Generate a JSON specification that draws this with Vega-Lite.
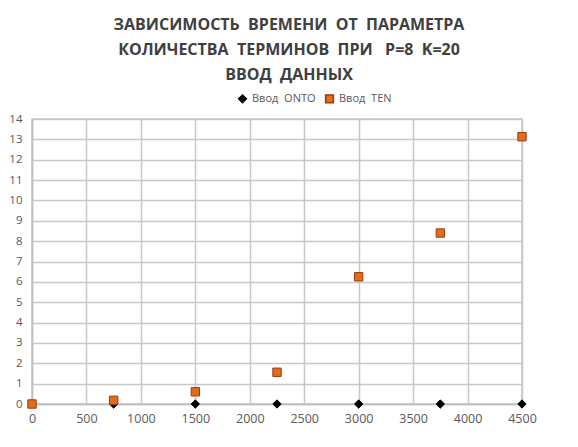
{
  "$schema": "https://vega.github.io/schema/vega-lite/v6.json",
  "width": 490,
  "height": 285,
  "autosize": "none",
  "padding": {"left": 32, "top": 119, "right": 56, "bottom": 43},
  "background": "white",
  "title": {
    "text": ["ЗАВИСИМОСТЬ\u00a0 ВРЕМЕНИ\u00a0 ОТ\u00a0 ПАРАМЕТРА", "КОЛИЧЕСТВА\u00a0 ТЕРМИНОВ\u00a0 ПРИ\u00a0\u00a0 P=8\u00a0 K=20", "ВВОД\u00a0 ДАННЫХ"],
    "font": "Open Sans",
    "fontSize": 16,
    "fontWeight": "bold",
    "color": "#404040",
    "lineHeight": 25,
    "anchor": "middle",
    "frame": "group",
    "offset": 10,
    "dx": 12
  },
  "data": {
    "values": [
      {"n": 0, "series": "Ввод\u00a0 ONTO", "t": 0},
      {"n": 750, "series": "Ввод\u00a0 ONTO", "t": 0},
      {"n": 1500, "series": "Ввод\u00a0 ONTO", "t": 0},
      {"n": 2250, "series": "Ввод\u00a0 ONTO", "t": 0},
      {"n": 3000, "series": "Ввод\u00a0 ONTO", "t": 0},
      {"n": 3750, "series": "Ввод\u00a0 ONTO", "t": 0},
      {"n": 4500, "series": "Ввод\u00a0 ONTO", "t": 0},
      {"n": 0, "series": "Ввод\u00a0 TEN", "t": 0},
      {"n": 750, "series": "Ввод\u00a0 TEN", "t": 0.18},
      {"n": 1500, "series": "Ввод\u00a0 TEN", "t": 0.6},
      {"n": 2250, "series": "Ввод\u00a0 TEN", "t": 1.56},
      {"n": 3000, "series": "Ввод\u00a0 TEN", "t": 6.25},
      {"n": 3750, "series": "Ввод\u00a0 TEN", "t": 8.4},
      {"n": 4500, "series": "Ввод\u00a0 TEN", "t": 13.13}
    ]
  },
  "mark": {"type": "point", "filled": true, "size": 70, "opacity": 1, "strokeWidth": 1},
  "encoding": {
    "x": {
      "field": "n",
      "type": "quantitative",
      "scale": {"domain": [0, 4500], "nice": false},
      "axis": {
        "title": null,
        "values": [0, 500, 1000, 1500, 2000, 2500, 3000, 3500, 4000, 4500],
        "format": "d",
        "labelFlush": false,
        "labelFont": "Open Sans",
        "labelFontSize": 12.5,
        "labelColor": "#595959",
        "labelPadding": 8,
        "ticks": false,
        "domainColor": "#bfbfbf",
        "domainWidth": 1.5,
        "gridColor": "#c8c8c8",
        "gridWidth": 1.5
      }
    },
    "y": {
      "field": "t",
      "type": "quantitative",
      "scale": {"domain": [0, 14], "nice": false},
      "axis": {
        "title": null,
        "values": [0, 1, 2, 3, 4, 5, 6, 7, 8, 9, 10, 11, 12, 13, 14],
        "labelFont": "Open Sans",
        "labelFontSize": 11.5,
        "labelColor": "#595959",
        "labelPadding": 10,
        "ticks": false,
        "domainColor": "#bfbfbf",
        "domainWidth": 1.5,
        "gridColor": "#c8c8c8",
        "gridWidth": 1.5
      }
    },
    "shape": {
      "field": "series",
      "type": "nominal",
      "scale": {"domain": ["Ввод\u00a0 ONTO", "Ввод\u00a0 TEN"], "range": ["diamond", "square"]},
      "legend": {
        "title": null,
        "orient": "none",
        "direction": "horizontal",
        "legendX": 205,
        "legendY": -26,
        "labelFont": "Open Sans",
        "labelFontSize": 11,
        "labelColor": "#595959",
        "columnPadding": 6,
        "symbolSize": 60
      }
    },
    "color": {
      "field": "series",
      "type": "nominal",
      "scale": {"domain": ["Ввод\u00a0 ONTO", "Ввод\u00a0 TEN"], "range": ["#000000", "#e36c1c"]},
      "legend": {
        "title": null,
        "orient": "none",
        "direction": "horizontal",
        "legendX": 205,
        "legendY": -26,
        "labelFont": "Open Sans",
        "labelFontSize": 11,
        "labelColor": "#595959",
        "columnPadding": 6,
        "symbolSize": 60
      }
    },
    "stroke": {
      "field": "series",
      "type": "nominal",
      "scale": {"domain": ["Ввод\u00a0 ONTO", "Ввод\u00a0 TEN"], "range": ["#000000", "#9c3a0a"]},
      "legend": {
        "title": null,
        "orient": "none",
        "direction": "horizontal",
        "legendX": 205,
        "legendY": -26,
        "labelFont": "Open Sans",
        "labelFontSize": 11,
        "labelColor": "#595959",
        "columnPadding": 6,
        "symbolSize": 60
      }
    }
  },
  "config": {"view": {"stroke": "#c8c8c8", "strokeWidth": 1.5}}
}
